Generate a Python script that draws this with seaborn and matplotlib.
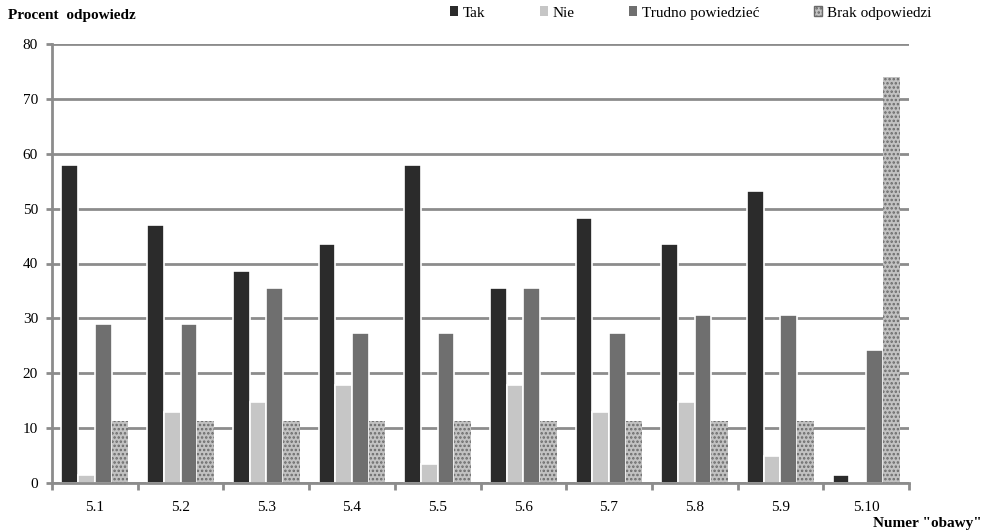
import matplotlib
matplotlib.use("Agg")
import matplotlib.pyplot as plt
import seaborn as sns
import pandas as pd
from matplotlib.patches import Patch

categories = ["5.1", "5.2", "5.3", "5.4", "5.5", "5.6", "5.7", "5.8", "5.9", "5.10"]
tak = [58.0, 47.0, 38.7, 43.5, 58.0, 35.5, 48.3, 43.5, 53.2, 1.5]
nie = [1.5, 13.0, 14.8, 17.8, 3.5, 17.8, 12.9, 14.8, 5.0, 0.0]
trudno = [29.0, 29.0, 35.5, 27.4, 27.4, 35.5, 27.4, 30.6, 30.6, 24.2]
brak = [11.3, 11.3, 11.3, 11.3, 11.3, 11.3, 11.3, 11.3, 11.3, 74.0]
series = ["Tak", "Nie", "Trudno powiedzieć", "Brak odpowiedzi"]
colors = ["#2b2b2b", "#c6c6c6", "#6f6f6f", "#c2c2c2"]
brak_hatch = "...."
brak_hatch_color = "#6a6a6a"

rows = []
for name, vals in zip(series, [tak, nie, trudno, brak]):
    for c, v in zip(categories, vals):
        rows.append({"cat": c, "series": name, "val": v})
df = pd.DataFrame(rows)

sns.set_theme(style="white")
plt.rcParams["font.family"] = ["Liberation Serif", "DejaVu Serif"]
plt.rcParams["text.color"] = "black"
plt.rcParams["xtick.color"] = "black"
plt.rcParams["ytick.color"] = "black"
plt.rcParams["hatch.linewidth"] = 1.2

fig = plt.figure(figsize=(9.83, 5.31), dpi=100)
ax = fig.add_axes([52 / 983, 1 - 483 / 531, 857 / 983, 439 / 531])

sns.barplot(data=df, x="cat", y="val", hue="series", hue_order=series,
            palette=colors, width=0.78, ax=ax, legend=False,
            edgecolor="white", linewidth=1.2, saturation=1)

for p in ax.containers[3]:
    p.set_hatch(brak_hatch)
    p.set_edgecolor(brak_hatch_color)
    p.set_linewidth(0)

ax.set_ylim(0, 80)
ax.set_xlim(-0.5, 9.5)
ax.set_yticks(range(0, 81, 10))
ax.yaxis.grid(True, color="#8c8c8c", linewidth=2)
ax.set_axisbelow(True)
for s in ["top", "right"]:
    ax.spines[s].set_visible(False)
for s in ["left", "bottom"]:
    ax.spines[s].set_color("#8c8c8c")
    ax.spines[s].set_linewidth(2)

ax.set_xlabel("")
ax.set_ylabel("")
ax.tick_params(axis="y", labelsize=11, left=True, length=4, width=2, color="#8c8c8c",
               pad=6, labelcolor="black")
ax.tick_params(axis="x", labelsize=11, bottom=False, pad=7, labelcolor="black")
ax.set_xticks([i + 0.5 for i in range(-1, 10)], minor=True)
ax.tick_params(axis="x", which="minor", bottom=True, length=5, width=2, color="#8c8c8c")

fig.text(8 / 983, 1 - 15 / 531, "Procent  odpowiedz", fontsize=11, fontweight="bold",
         ha="left", va="center")
fig.text(982 / 983, 1 - 524 / 531, 'Numer "obawy"', fontsize=11, fontweight="bold",
         ha="right", va="center")

handles = [Patch(facecolor=c, edgecolor="none") for c in colors]
handles[3].set_hatch(brak_hatch)
handles[3].set_edgecolor(brak_hatch_color)
fig.legend(handles, series, loc="center left", bbox_to_anchor=(450 / 983, 1 - 13 / 531),
           ncol=4, frameon=False, fontsize=11, handlelength=0.55, handleheight=0.55,
           handletextpad=0.3, columnspacing=3.55, borderaxespad=0, borderpad=0)

fig.savefig("out.png", dpi=100)
